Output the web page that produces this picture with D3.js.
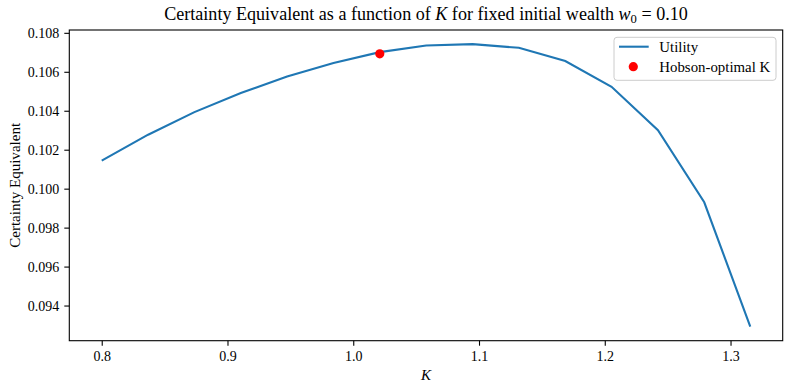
<!DOCTYPE html>
<html>
<head>
<meta charset="utf-8">
<script src="https://cdn.jsdelivr.net/npm/d3@7"></script>
<style>
  body { margin: 0; background: #fff; }
  text { font-family: "Liberation Serif", "DejaVu Serif", serif; }
</style>
</head>
<body>
<svg id="chart"></svg>
<script>
// strike values K and certainty equivalents
const kValues = [0.8, 0.8369, 0.8737, 0.9106, 0.9474, 0.9843, 1.0211, 1.058,
                 1.0949, 1.1317, 1.1686, 1.2054, 1.2423, 1.2791, 1.3157];
const ceValues = [0.10144, 0.10277, 0.10393, 0.10491, 0.10576, 0.10645, 0.10701, 0.10735,
                  0.10742, 0.10723, 0.10655, 0.10523, 0.10300, 0.09930, 0.09292];
const optimalK = [1.0211];
const optimalCE = [0.10692];
const xTicks = [0.8, 0.9, 1.0, 1.1, 1.2, 1.3];
const yTicks = [0.094, 0.096, 0.098, 0.100, 0.102, 0.104, 0.106, 0.108];
const legendLabels = ["Utility", "Hobson-optimal K"];

const width = 793, height = 391;
const margin = {top: 30, right: 10.3, bottom: 50.3, left: 69.3};

const svg = d3.select("#chart")
  .attr("width", width)
  .attr("height", height);

// matplotlib-style 5% padding around the data
function padded(vals) {
  const [lo, hi] = d3.extent(vals);
  const pad = (hi - lo) * 0.05;
  return [lo - pad, hi + pad];
}

// shrink/grow a text's font so it spans the width seen in the reference
function fitWidth(sel, target) {
  const fs = parseFloat(sel.attr("font-size"));
  const len = sel.node().getComputedTextLength();
  if (len > 0) sel.attr("font-size", fs * target / len);
}

const x = d3.scaleLinear()
  .domain(padded(kValues))
  .range([margin.left, width - margin.right]);

const y = d3.scaleLinear()
  .domain(padded(ceValues))
  .range([height - margin.bottom, margin.top]);

const xAxis = svg.append("g")
  .attr("transform", `translate(0,${height - margin.bottom})`)
  .call(d3.axisBottom(x).tickValues(xTicks).tickFormat(d3.format(".1f")).tickSizeOuter(0).tickSize(5).tickPadding(5));

const yAxis = svg.append("g")
  .attr("transform", `translate(${margin.left},0)`)
  .call(d3.axisLeft(y).tickValues(yTicks).tickFormat(d3.format(".3f")).tickSizeOuter(0).tickSize(5).tickPadding(5));

[xAxis, yAxis].forEach(g => {
  g.select(".domain").remove();
  g.selectAll("line").attr("stroke", "#000").attr("stroke-width", 1.1);
  g.selectAll("text").attr("font-size", 14).attr("fill", "#000")
    .style("font-family", "'Liberation Serif', serif");
});

// frame
svg.append("rect")
  .attr("x", margin.left)
  .attr("y", margin.top)
  .attr("width", width - margin.left - margin.right)
  .attr("height", height - margin.top - margin.bottom)
  .attr("fill", "none")
  .attr("stroke", "#000")
  .attr("stroke-width", 1.1);

const line = d3.line()
  .x((d, i) => x(kValues[i]))
  .y(d => y(d));

svg.append("path")
  .datum(ceValues)
  .attr("d", line)
  .attr("fill", "none")
  .attr("stroke", "#1f77b4")
  .attr("stroke-width", 2.1);

svg.append("g")
  .selectAll("circle")
  .data(optimalK)
  .join("circle")
  .attr("cx", d => x(d))
  .attr("cy", (d, i) => y(optimalCE[i]))
  .attr("r", 4.6)
  .attr("fill", "red");

// title
const title = svg.append("text")
  .attr("x", (margin.left + width - margin.right) / 2)
  .attr("y", 20)
  .attr("text-anchor", "middle")
  .attr("font-size", 16);
title.append("tspan").text("Certainty Equivalent as a function of ");
title.append("tspan").attr("font-style", "italic").text("K");
title.append("tspan").text(" for fixed initial wealth ");
title.append("tspan").attr("font-style", "italic").text("w");
title.append("tspan").attr("font-size", "0.7em").attr("dy", 3).text("0");
title.append("tspan").attr("dy", -3).text(" = 0.10");
fitWidth(title, 524);

// axis labels
svg.append("text")
  .attr("x", (margin.left + width - margin.right) / 2)
  .attr("y", 380)
  .attr("text-anchor", "middle")
  .attr("font-size", 15)
  .attr("font-style", "italic")
  .text("K");

const yLabel = svg.append("text")
  .attr("transform", `translate(20,${(margin.top + height - margin.bottom) / 2}) rotate(-90)`)
  .attr("text-anchor", "middle")
  .attr("font-size", 14)
  .text("Certainty Equivalent");
fitWidth(yLabel, 125);

// legend
const legend = svg.append("g").attr("transform", "translate(614,37.3)");
legend.append("rect")
  .attr("width", 162).attr("height", 43).attr("rx", 3)
  .attr("fill", "#fff").attr("fill-opacity", 0.8)
  .attr("stroke", "#ccc");
legend.append("line")
  .attr("x1", 5).attr("x2", 34.7).attr("y1", 9.4).attr("y2", 9.4)
  .attr("stroke", "#1f77b4").attr("stroke-width", 2.1);
legend.append("circle")
  .attr("cx", 19.3).attr("cy", 29.4).attr("r", 4.6).attr("fill", "red");
const legendText = legend.selectAll("text.lbl")
  .data(legendLabels)
  .join("text")
  .attr("class", "lbl")
  .attr("x", 45.3)
  .attr("y", (d, i) => 14.4 + i * 20)
  .attr("font-size", 14)
  .text(d => d);
fitWidth(legendText.filter((d, i) => i === 1), 111);
legendText.attr("font-size", legendText.filter((d, i) => i === 1).attr("font-size"));
</script>
</body>
</html>
